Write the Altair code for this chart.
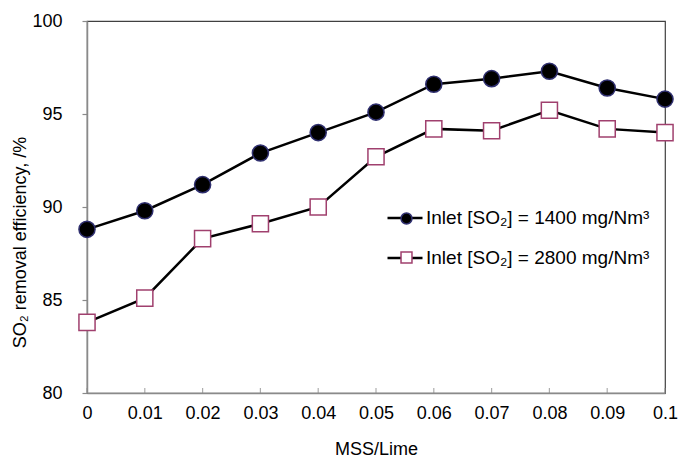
import altair as alt
import pandas as pd

# ---- data ----
x_vals = [0, 0.01, 0.02, 0.03, 0.04, 0.05, 0.06, 0.07, 0.08, 0.09, 0.1]
eff_1400 = [88.8, 89.8, 91.2, 92.9, 94.0, 95.1, 96.6, 96.9, 97.3, 96.4, 95.8]
eff_2800 = [83.8, 85.1, 88.3, 89.1, 90.0, 92.7, 94.2, 94.1, 95.2, 94.2, 94.0]
series_names = ["Inlet [SO₂] = 1400 mg/Nm³", "Inlet [SO₂] = 2800 mg/Nm³"]
y_ticks = [80, 85, 90, 95, 100]

rows = []
for name, vals in zip(series_names, [eff_1400, eff_2800]):
    for xv, yv in zip(x_vals, vals):
        rows.append({"x": xv, "y": yv, "series": name, "series_l": name})
df = pd.DataFrame(rows)

FONT = "Liberation Sans"
GRAY = "#8a8a8a"

x_enc = alt.X(
    "x:Q",
    scale=alt.Scale(domain=[0, 0.1], nice=False, zero=False),
    axis=alt.Axis(
        title="MSS/Lime", values=x_vals, format=".2~f", grid=False,
        domainColor=GRAY, domainWidth=1.5, tickSize=0, labelPadding=11,
        labelFontSize=18, labelFont=FONT, labelColor="#000", labelFlush=False,
        titleFontSize=18, titleFont=FONT, titleFontWeight="normal",
        titleColor="#000", titlePadding=18,
    ),
)
y_enc = alt.Y(
    "y:Q",
    scale=alt.Scale(domain=[80, 100], nice=False, zero=False),
    axis=alt.Axis(
        title="SO₂ removal efficiency, /%", values=y_ticks, grid=False,
        domainColor=GRAY, domainWidth=1.5, tickColor=GRAY, tickSize=5,
        tickWidth=1.2, labelPadding=20, labelFontSize=18, labelFont=FONT,
        labelColor="#000", titleFontSize=18, titleFont=FONT,
        titleFontWeight="normal", titleColor="#000",
        titleX=-67, titleY=221, titleBaseline="middle",
    ),
)

base = alt.Chart(df)

lines = base.mark_line(strokeWidth=2.5).encode(
    x=x_enc, y=y_enc, detail="series:N",
    color=alt.Color(
        "series_l:N",
        scale=alt.Scale(range=["#000000", "#000000"]),
        legend=alt.Legend(
            title=None, orient="none", legendX=299, legendY=178,
            symbolType="stroke", symbolSize=1225, symbolStrokeWidth=2.5,
            labelFontSize=19, labelFont=FONT, labelColor="#000",
            labelLimit=400, labelOffset=2, rowPadding=11, padding=0,
        ),
    ),
)

pt_legend = alt.Legend(
    title=None, orient="none", legendX=310, legendY=188,
    labelFontSize=19, labelFont=FONT, labelExpr="''", labelLimit=400,
    labelOffset=2, rowPadding=19, padding=0, symbolStrokeWidth=1.5,
    symbolOpacity=1, symbolSize=120,
)

points = base.mark_point(size=260, filled=False, opacity=1, strokeWidth=1.5).encode(
    x="x:Q", y="y:Q",
    shape=alt.Shape("series:N", scale=alt.Scale(range=["circle", "square"]), legend=pt_legend),
    fill=alt.Fill("series:N", scale=alt.Scale(range=["#000000", "#ffffff"]), legend=pt_legend),
    stroke=alt.Stroke("series:N", scale=alt.Scale(range=["#303070", "#a0406e"]), legend=pt_legend),
)

ticks = alt.Chart(pd.DataFrame({"x": x_vals})).mark_tick(
    orient="vertical", size=5, yOffset=-2.5, color=GRAY, thickness=1.2
).encode(x="x:Q", y=alt.datum(80))

chart = alt.layer(lines, ticks, points).properties(
    width=578, height=372,
    autosize=alt.AutoSizeParams(type="none"),
    padding={"left": 79, "top": 13, "right": 13, "bottom": 64},
    background="white",
).configure_view(stroke="#404040", strokeWidth=1.2)

chart.save("out.html", embed_options={"renderer": "svg", "actions": False})
